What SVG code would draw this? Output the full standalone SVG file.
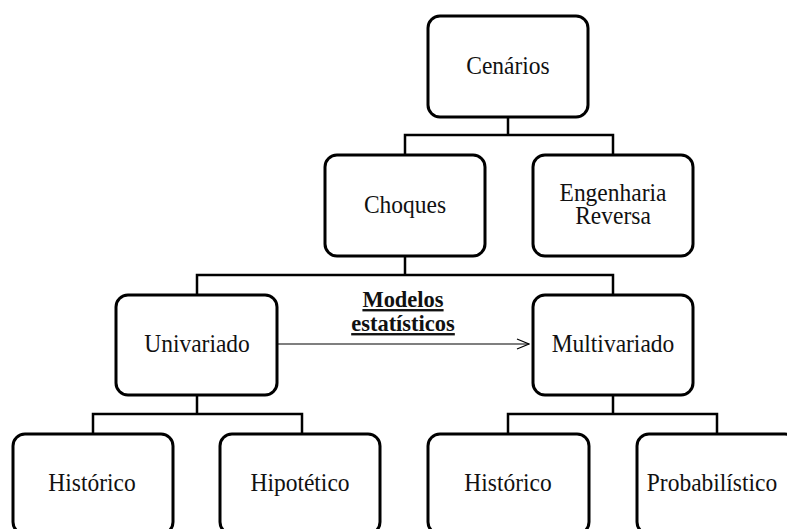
<svg xmlns="http://www.w3.org/2000/svg" width="787" height="529" viewBox="0 0 787 529">
<style>
.box{fill:#fff;stroke:#000;stroke-width:3}
.lbl{font-family:"Liberation Serif","Times New Roman",serif;font-size:23.5px;fill:#111;text-anchor:middle}
.bold{font-family:"Liberation Serif","Times New Roman",serif;font-size:22.5px;font-weight:bold;fill:#111;text-anchor:middle;text-decoration:underline}
.conn{fill:none;stroke:#000;stroke-width:2.5}
</style>
<defs>
<marker id="arr" markerWidth="14" markerHeight="12" refX="13" refY="6" orient="auto" markerUnits="userSpaceOnUse">
<path d="M1,1 L13,6 L1,11" fill="none" stroke="#000" stroke-width="1.2"/>
</marker>
</defs>
<rect width="787" height="529" fill="#fff"/>
<g id="connectors">
<path class="conn" d="M508,117 V135 M405,155 V135 H613 V155"/>
<path class="conn" d="M405,256 V275 M197,295 V275 H613 V295"/>
<path class="conn" d="M197,395 V414 M93,434 V414 H302 V434"/>
<path class="conn" d="M613,395 V414 M508,434 V414 H717 V434"/>
<line x1="277" y1="344" x2="529" y2="344" stroke="#000" stroke-width="1.2" marker-end="url(#arr)"/>
<text class="bold" transform="matrix(1,0,0,1.05,403,307)">Modelos </text>
<text class="bold" transform="matrix(1,0,0,1.05,403,331)">estatísticos</text>
</g>
<g id="cenarios"><rect class="box" x="428" y="16" width="160" height="101" rx="12"/><text class="lbl" transform="matrix(1,0,0,1.1,508,74)">Cenários</text></g>
<g id="choques"><rect class="box" x="325" y="155" width="160" height="101" rx="12"/><text class="lbl" transform="matrix(1,0,0,1.1,405,213)">Choques</text></g>
<g id="engenharia"><rect class="box" x="533" y="155" width="160" height="101" rx="12"/><text class="lbl" transform="matrix(1,0,0,1.1,613,201)">Engenharia</text><text class="lbl" transform="matrix(1,0,0,1.1,613,224)">Reversa</text></g>
<g id="univariado"><rect class="box" x="116" y="295" width="161" height="100" rx="12"/><text class="lbl" transform="matrix(1,0,0,1.1,197,352)">Univariado</text></g>
<g id="multivariado"><rect class="box" x="533" y="295" width="160" height="100" rx="12"/><text class="lbl" transform="matrix(1,0,0,1.1,613,352)">Multivariado</text></g>
<g id="historico1"><rect class="box" x="13" y="434" width="160" height="100" rx="12"/><text class="lbl" transform="matrix(1,0,0,1.1,92,491)">Histórico</text></g>
<g id="hipotetico"><rect class="box" x="220" y="434" width="160" height="100" rx="12"/><text class="lbl" transform="matrix(1,0,0,1.1,300,491)">Hipotético</text></g>
<g id="historico2"><rect class="box" x="428" y="434" width="161" height="100" rx="12"/><text class="lbl" transform="matrix(1,0,0,1.1,508,491)">Histórico</text></g>
<g id="probabilistico"><rect class="box" x="637" y="434" width="160" height="100" rx="12"/><text class="lbl" transform="matrix(1,0,0,1.1,712,491)">Probabilístico</text></g>
</svg>
